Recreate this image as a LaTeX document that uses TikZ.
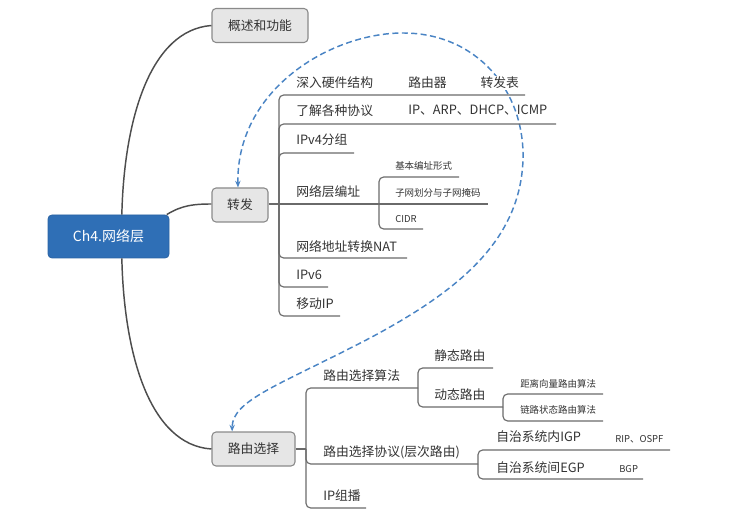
\documentclass[tikz,border=0pt]{standalone}
\usepackage{fontspec}
\setmainfont{Noto Sans CJK SC}
\usetikzlibrary{arrows.meta}
\definecolor{centralblue}{HTML}{2F6FB6}
\definecolor{centralborder}{HTML}{2A62A3}
\definecolor{boxfill}{HTML}{E6E6E6}
\definecolor{boxborder}{HTML}{8A8A8A}
\definecolor{txt}{HTML}{333333}
\definecolor{mainline}{HTML}{4D4D4D}
\definecolor{branchline}{HTML}{6A6A6A}
\definecolor{relblue}{HTML}{4A84C4}
\newcommand{\midfont}{\fontsize{9.6}{11}\selectfont}
\newcommand{\smallfont}{\fontsize{7.1}{8.5}\selectfont}
\newcommand{\bigfont}{\fontsize{10.5}{12}\selectfont}
\begin{document}
\begin{tikzpicture}[x=0.75pt,y=-0.75pt,
  topicbox/.style={draw=boxborder, fill=boxfill, rounded corners=3pt, line width=0.8pt,
    text=txt, font=\midfont, inner sep=0pt, minimum height=25.5pt},
  centralbox/.style={draw=centralborder, fill=centralblue, rounded corners=3pt, line width=0.6pt,
    text=white, font=\bigfont, inner sep=0pt, minimum width=90.75pt, minimum height=32.25pt},
  leaf/.style={anchor=west, inner sep=0pt, text=txt, font=\midfont},
  smallleaf/.style={anchor=west, inner sep=0pt, text=txt, font=\smallfont},
  mainconn/.style={draw=mainline, line width=1.1pt},
  branch/.style={draw=branchline, line width=0.85pt, rounded corners=3.5pt},
  rel/.style={draw=relblue, line width=1.1pt, dash pattern=on 4.5pt off 2.6pt,
    {Stealth[length=5pt,width=4pt]}-{Stealth[length=5pt,width=4pt]}}
]
\useasboundingbox (0,0) rectangle (739,527);

% main topics
\node[centralbox] (c) at (108.5,236.5) {Ch4.网络层};
\node[topicbox, minimum width=72pt] (gs) at (260,25.5) {概述和功能};
\node[topicbox, minimum width=42pt] (zf) at (240,205) {转发};
\node[topicbox, minimum width=62.25pt] (ly) at (253.5,449) {路由选择};

% main connectors
\draw[mainconn] ([xshift=10pt]c.north) .. controls (124,120) and (150,30) .. (gs.west);
\draw[mainconn] ([xshift=10pt]c.south) .. controls (124,355) and (150,445) .. (ly.west);
\draw[mainconn] ([xshift=-2pt]c.north east) .. controls (182,205) and (195,204) .. ([yshift=0.75pt]zf.west);

% relationship (dashed, both ends)
\draw[rel] ([xshift=-1.5pt]zf.north) .. controls (236,90) and (330,33) .. (403,33)
  .. controls (476,33) and (525,90) .. (523,160)
  .. controls (520,240) and (460,290) .. (370,338)
  .. controls (280,385) and (232,400) .. ([xshift=-16pt]ly.north);

% ---------- 转发 subtree ----------
\coordinate (zfj) at (279,204);
\draw[branch] ([yshift=0.75pt]zf.east) -- (488,204);
\draw[branch] (zfj) -- (279,95) -- (525,95);
\draw[branch] (zfj) -- (279,124) -- (556,124);
\draw[branch] (zfj) -- (279,153) -- (354,153);
\draw[branch] (zfj) -- (279,258) -- (407,258);
\draw[branch] (zfj) -- (279,287) -- (328,287);
\draw[branch] (zfj) -- (279,316) -- (340,316);

\node[leaf] (a1) at (296,83) {深入硬件结构};
\node[leaf] (a1b) at (408,83) {路由器};
\node[leaf, fill=white, inner sep=1pt] (a1c) at (479,83) {转发表};
\node[leaf] (a2) at (296,110.5) {了解各种协议};
\node[leaf] (a2b) at (408,110.5) {IP、ARP、DHCP、ICMP};
\node[leaf] (a3) at (296,140) {IPv4分组};
\node[leaf] (a4) at (296,192) {网络层编址};
\node[leaf] (a5) at (296,246.5) {网络地址转换NAT};
\node[leaf] (a6) at (296,275) {IPv6};
\node[leaf] (a7) at (296,304) {移动IP};

% 网络层编址 sub
\coordinate (a4j) at (379,204);
\draw[branch] (a4j) -- (379,177) -- (459,177);
\draw[branch] (a4j) -- (379,229) -- (423,229);
\node[smallleaf] (b1) at (395,166) {基本编址形式};
\node[smallleaf] (b2) at (395,193) {子网划分与子网掩码};
\node[smallleaf] (b3) at (395,219) {CIDR};

% ---------- 路由选择 subtree ----------
\coordinate (lyj) at (306,449);
\draw[branch] (ly.east) -- (lyj);
\draw[branch] (lyj) -- (306,388) -- (418,388);
\draw[branch] (lyj) -- (306,464) -- (478,464);
\draw[branch] (lyj) -- (306,508) -- (366,508);
\node[leaf] (r1) at (323,376) {路由选择算法};
\node[leaf] (r2) at (323,452.5) {路由选择协议(层次路由)};
\node[leaf] (r3) at (323,496) {IP组播};

% 路由选择算法 sub
\coordinate (r1j) at (418,388);
\draw[branch] (r1j) -- (418,368) -- (493,368);
\draw[branch] (r1j) -- (418,407) -- (503,407);
\node[leaf] (s1) at (434,356) {静态路由};
\node[leaf] (s2) at (434,395) {动态路由};

% 动态路由 sub
\coordinate (s2j) at (503,407);
\draw[branch] (s2j) -- (503,394) -- (603,394);
\draw[branch] (s2j) -- (503,421) -- (603,421);
\node[smallleaf] (d1) at (520,384) {距离向量路由算法};
\node[smallleaf] (d2) at (520,410) {链路状态路由算法};

% 路由选择协议 sub
\coordinate (r2j) at (478,464);
\draw[branch] (r2j) -- (478,450) -- (670,450);
\draw[branch] (r2j) -- (478,479) -- (643,479);
\node[leaf] (p1) at (496,437) {自治系统内IGP};
\node[leaf] (p2) at (496,467.5) {自治系统间EGP};
\node[smallleaf] (p1b) at (615,439) {RIP、OSPF};
\node[smallleaf] (p2b) at (619,469) {BGP};
\end{tikzpicture}
\end{document}
